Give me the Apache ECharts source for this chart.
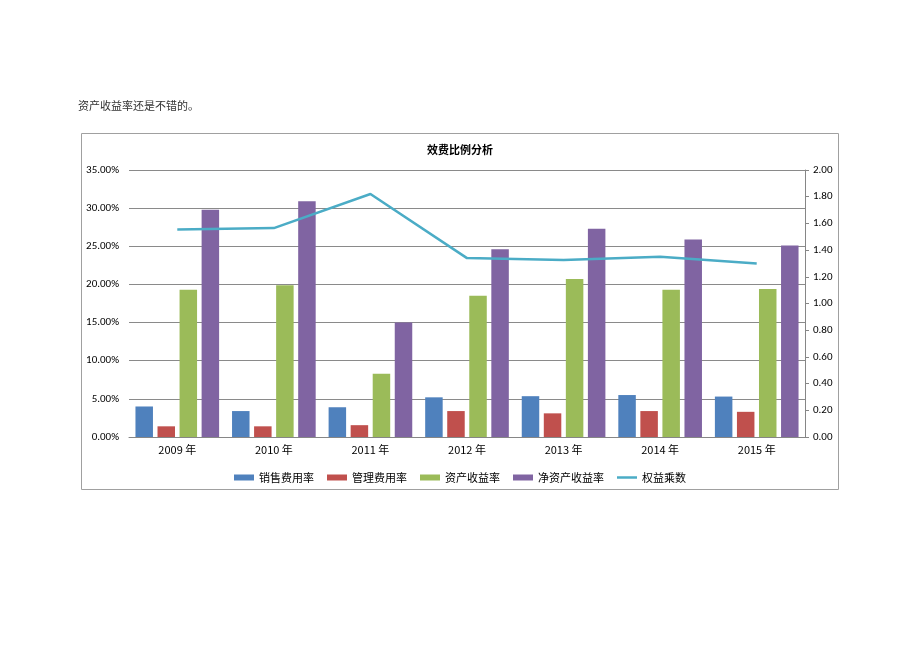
<!DOCTYPE html>
<html><head><meta charset="utf-8">
<script src="https://cdn.jsdelivr.net/npm/echarts@6/dist/echarts.min.js"></script>
<style>html,body{margin:0;padding:0;background:#fff;}#c{width:920px;height:651px;}</style>
</head><body><div id="c"></div>
<script>
const categories = ['2009 年','2010 年','2011 年','2012 年','2013 年','2014 年','2015 年'];
const salesRate = [4.0, 3.4, 3.9, 5.2, 5.35, 5.5, 5.3];
const mgmtRate = [1.4, 1.4, 1.55, 3.4, 3.1, 3.4, 3.3];
const roa = [19.3, 19.9, 8.3, 18.5, 20.7, 19.3, 19.4];
const roe = [29.8, 30.9, 15.0, 24.6, 27.3, 25.9, 25.1];
const equityMultiplier = [1.555, 1.565, 1.82, 1.34, 1.325, 1.35, 1.30];
const leftTicks = {min: 0, max: 35, interval: 5};
const rightTicks = {min: 0, max: 2, interval: 0.2};

const chart = echarts.init(document.getElementById('c'));
const font = 'Calibri, "Liberation Sans", "Noto Sans CJK SC", sans-serif';
const barW = 17.5;
chart.setOption({
  animation: false,
  textStyle: {fontFamily: font},
  graphic: [
    {type: 'text', left: 78, top: 100, style: {text: '资产收益率还是不错的。', font: '11px "Noto Sans CJK SC", sans-serif', fill: '#333'}},
    {type: 'rect', shape: {x: 81.5, y: 133.5, width: 757, height: 356}, style: {fill: 'none', stroke: '#a0a0a0', lineWidth: 1}}
  ],
  title: {text: '效费比例分析', left: 'center', top: 139, textStyle: {fontSize: 11, fontWeight: 'bold', color: '#000', fontFamily: '"Noto Sans CJK SC", sans-serif'}},
  legend: {
    top: 467, left: 'center', itemWidth: 20, itemHeight: 6, itemGap: 13,
    textStyle: {fontSize: 11, color: '#000', fontFamily: '"Noto Sans CJK SC", sans-serif'},
    data: [
      {name: '销售费用率', icon: 'rect'},
      {name: '管理费用率', icon: 'rect'},
      {name: '资产收益率', icon: 'rect'},
      {name: '净资产收益率', icon: 'rect'},
      {name: '权益乘数', icon: 'path://M0,0 H40 V5 H0 Z'}
    ]
  },
  grid: {left: 129, right: 115, top: 170, bottom: 214},
  xAxis: {
    type: 'category', data: categories,
    axisLine: {lineStyle: {color: '#868686'}},
    axisTick: {show: false},
    axisLabel: {fontSize: 11, color: '#000', margin: 7, fontFamily: '"Noto Sans CJK SC", sans-serif'}
  },
  yAxis: [
    {type: 'value', min: leftTicks.min, max: leftTicks.max, interval: leftTicks.interval,
     axisLine: {show: false}, axisTick: {show: false},
     axisLabel: {fontSize: 11, color: '#000', margin: 10, formatter: v => v.toFixed(2) + '%'},
     splitLine: {lineStyle: {color: '#8a8a8a', width: 1}}},
    {type: 'value', min: rightTicks.min, max: rightTicks.max, interval: rightTicks.interval, position: 'right',
     axisLine: {show: true, lineStyle: {color: '#868686'}},
     axisTick: {show: true, length: 4, lineStyle: {color: '#868686'}},
     axisLabel: {fontSize: 11, color: '#000', margin: 8, formatter: v => v.toFixed(2)},
     splitLine: {show: false}}
  ],
  series: [
    {name: '销售费用率', type: 'bar', data: salesRate, barWidth: barW, barGap: '26%', itemStyle: {color: '#4F81BD'}},
    {name: '管理费用率', type: 'bar', data: mgmtRate, barWidth: barW, barGap: '26%', itemStyle: {color: '#C0504D'}},
    {name: '资产收益率', type: 'bar', data: roa, barWidth: barW, barGap: '26%', itemStyle: {color: '#9BBB59'}},
    {name: '净资产收益率', type: 'bar', data: roe, barWidth: barW, barGap: '26%', itemStyle: {color: '#8064A2'}},
    {name: '权益乘数', type: 'line', yAxisIndex: 1, data: equityMultiplier, symbol: 'none', showSymbol: false,
     lineStyle: {color: '#4BACC6', width: 2.5}, itemStyle: {color: '#4BACC6'}}
  ]
});
</script></body></html>
